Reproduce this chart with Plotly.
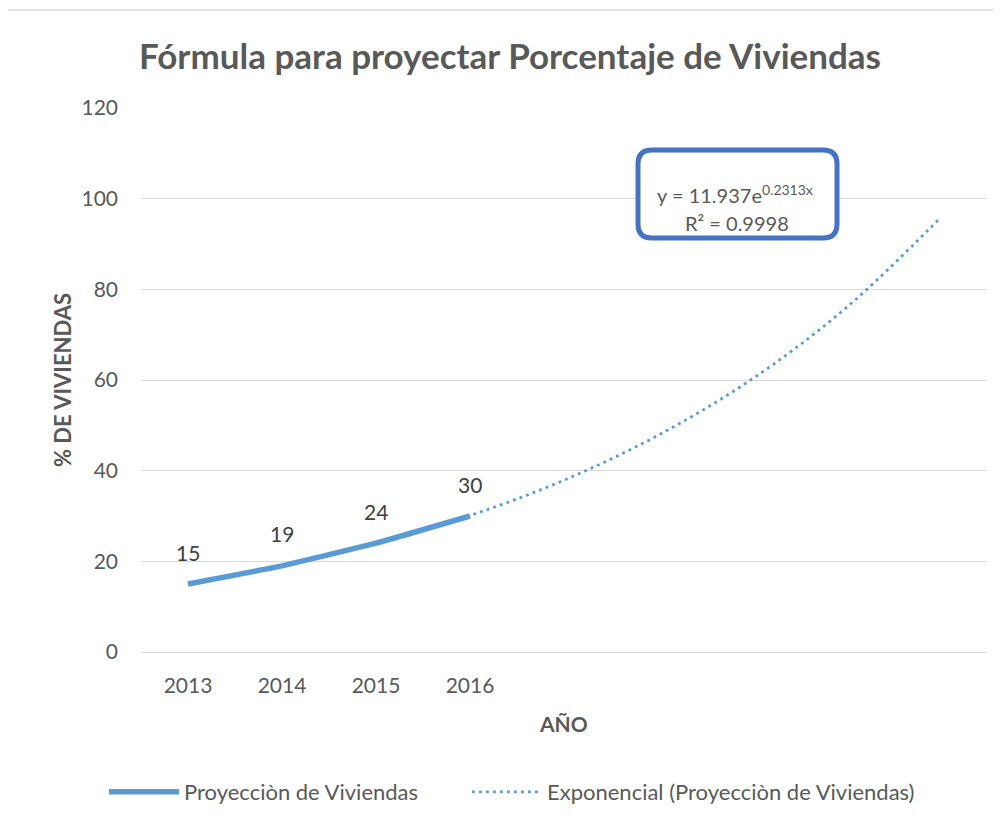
import plotly.graph_objects as go

# ---- data ----
years = ["2013", "2014", "2015", "2016"]
values = [15, 19, 24, 30]
trend_x = [1, 2, 3, 4, 5, 6, 7, 8, 9]
trend_y = [15.1, 19.0, 23.9, 30.1, 37.9, 47.8, 60.2, 75.9, 95.7]
series_name = "Proyecciòn de Viviendas"
trend_name = "Exponencial (Proyecciòn de Viviendas)"
title_text = "Fórmula para proyectar Porcentaje de Viviendas"
eq_line1 = "y = 11.937e<sup>0.2313x</sup>"
eq_line2 = "R² = 0.9998"

OFF = 8  # page body margin
W, H = 1001 - OFF, 828 - OFF
PL, PR, PT, PB = 141, 987, 108, 652  # plot area in screen pixels
L, R, T, B = PL - OFF, W - (PR - OFF), PT - OFF, H - (PB - OFF)
PW, PH = PR - PL, PB - PT
XR = [0.5, 9.5]
YR = [0, 120]

FONT = "Lato"
TXT = "#595959"
BLUE = "#5B9BD5"

def px2x(px):
    return XR[0] + (px - PL) / PW * (XR[1] - XR[0])

def px2y(py):
    return YR[0] + (PB - py) / PH * (YR[1] - YR[0])

def fx(px):
    return (px - PL) / PW

def fy(py):
    return (PB - py) / PH

xs = list(range(1, len(years) + 1))

fig = go.Figure()
fig.add_trace(go.Scatter(
    x=trend_x, y=trend_y, mode="lines", name=trend_name, legend="legend2",
    line=dict(color=BLUE, width=2.8, dash="2.8px,4.2px", shape="spline"),
    hoverinfo="skip"))
fig.add_trace(go.Scatter(
    x=xs, y=values, mode="lines", name=series_name, legend="legend",
    line=dict(color=BLUE, width=5.5, shape="spline", smoothing=0.3)))

annotations = []
for xv, v in zip(xs, values):
    annotations.append(dict(x=xv, y=v, text=str(v), showarrow=False, yshift=32,
                            font=dict(family=FONT, size=21, color="#404040")))

annotations += [
    dict(xref="paper", yref="paper", x=fx(510), y=fy(55), text="<b>" + title_text + "</b>",
         showarrow=False, font=dict(family=FONT, size=35, color=TXT), xanchor="center", yanchor="middle"),
    dict(xref="paper", yref="paper", x=fx(62), y=fy(380), text="<b>% DE VIVIENDAS</b>",
         showarrow=False, textangle=-90, font=dict(family=FONT, size=22, color=TXT),
         xanchor="center", yanchor="middle"),
    dict(xref="paper", yref="paper", x=fx(563), y=fy(723), text="<b>AÑO</b>",
         showarrow=False, font=dict(family=FONT, size=21, color=TXT), xanchor="center", yanchor="middle"),
    dict(xref="paper", yref="paper", x=fx(735), y=fy(194), text=eq_line1,
         showarrow=False, font=dict(family=FONT, size=20, color=TXT), xanchor="center", yanchor="middle"),
    dict(xref="paper", yref="paper", x=fx(737), y=fy(223), text=eq_line2,
         showarrow=False, font=dict(family=FONT, size=20, color=TXT), xanchor="center", yanchor="middle"),
]

# rounded box in data coords
bx0, bx1, by0, by1, rad = 638, 837, 150, 238, 14
def P(px, py):
    return f"{px2x(px):.5f},{px2y(py):.5f}"
path = (f"M {P(bx0+rad, by0)} L {P(bx1-rad, by0)} Q {P(bx1, by0)} {P(bx1, by0+rad)} "
        f"L {P(bx1, by1-rad)} Q {P(bx1, by1)} {P(bx1-rad, by1)} "
        f"L {P(bx0+rad, by1)} Q {P(bx0, by1)} {P(bx0, by1-rad)} "
        f"L {P(bx0, by0+rad)} Q {P(bx0, by0)} {P(bx0+rad, by0)} Z")

shapes = [
    dict(type="path", xref="x", yref="y", path=path, line=dict(color="#4472C4", width=5),
         fillcolor="white", layer="above"),
    dict(type="line", xref="paper", yref="paper", x0=fx(7), x1=fx(1010), y0=fy(10), y1=fy(10),
         line=dict(color="#d9d9d9", width=1.5)),
    dict(type="line", xref="paper", yref="paper", x0=fx(7), x1=fx(7), y0=fy(10), y1=fy(840),
         line=dict(color="#d9d9d9", width=1.5)),
]

leg_common = dict(orientation="h", yanchor="middle", xanchor="left",
                  font=dict(family=FONT, size=22, color=TXT), itemwidth=70,
                  bgcolor="rgba(0,0,0,0)")

fig.update_layout(
    width=W, height=H,
    margin=dict(l=L, r=R, t=T, b=B, pad=0),
    paper_bgcolor="white", plot_bgcolor="white",
    font=dict(family=FONT, color=TXT, size=20),
    showlegend=True,
    legend=dict(x=fx(104), y=fy(792), **leg_common),
    legend2=dict(x=fx(467), y=fy(792), **leg_common),
    annotations=annotations,
    shapes=shapes,
)
fig.update_xaxes(range=XR, tickvals=xs, ticktext=years, showgrid=False, zeroline=False,
                 showline=True, linecolor="#d9d9d9", linewidth=1.2, ticks="",
                 ticklabelstandoff=15, tickfont=dict(family=FONT, size=21, color=TXT), fixedrange=True)
fig.update_yaxes(range=YR, tickvals=[0, 20, 40, 60, 80, 100, 120], showgrid=True, gridcolor="#d9d9d9",
                 gridwidth=1.2, zeroline=False, showline=False, ticks="",
                 ticklabelstandoff=22, tickfont=dict(family=FONT, size=21, color=TXT), fixedrange=True)

fig.write_html("out.html")
